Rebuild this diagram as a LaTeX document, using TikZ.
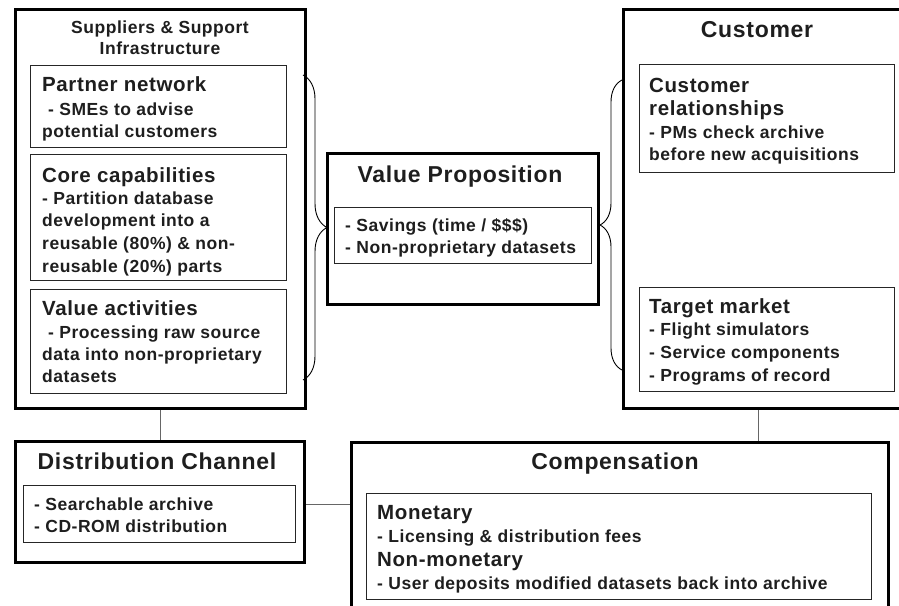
\documentclass[tikz,border=0pt]{standalone}
\usepackage{fontspec}
\setmainfont{Liberation Sans}[LetterSpace=3]
\usetikzlibrary{decorations.pathreplacing}
\definecolor{txtcol}{HTML}{1E1E1E}
\definecolor{conncol}{HTML}{666666}
\tikzset{
  outerbox/.style={draw=black, line width=3pt, inner sep=0pt, anchor=north west, fill=none},
  innerbox/.style={draw=black!85, line width=1.3pt, inner sep=0pt, anchor=north west},
  conn/.style={draw=conncol, line width=1pt},
  bracestyle/.style={draw=black, line width=0.9pt, decorate},
  txt/.style={anchor=base west, inner sep=0pt, text=txtcol, font=\bfseries\fontsize{17.5}{21}\selectfont},
  head/.style={anchor=base west, inner sep=0pt, text=txtcol, font=\bfseries\fontsize{20.5}{24}\selectfont},
  ttl/.style={anchor=base, inner sep=0pt, text=txtcol, font=\bfseries\fontsize{23}{27}\selectfont},
  sttl/.style={anchor=base, inner sep=0pt, text=txtcol, font=\bfseries\fontsize{17.5}{21}\selectfont},
}
\begin{document}
\begin{tikzpicture}[x=1pt,y=-1pt]
\useasboundingbox (0,0) rectangle (899,605);
\clip (0,0) rectangle (899,605);
\fill[white] (0,0) rectangle (899,605);

% ---- boxes ----
\node[outerbox, minimum width=290, minimum height=399] (supp) at (14,8) {};
\node[innerbox, minimum width=256, minimum height=82] (pn) at (30,65) {};
\node[innerbox, minimum width=256, minimum height=126] (cc) at (30,154) {};
\node[innerbox, minimum width=256, minimum height=104] (va) at (30,289) {};

\node[outerbox, minimum width=271, minimum height=151] (vp) at (326,152) {};
\node[innerbox, minimum width=257, minimum height=56] (vpi) at (334,207) {};

\node[outerbox, minimum width=290, minimum height=399] (cust) at (622,8) {};
\node[innerbox, minimum width=255, minimum height=108] (cr) at (639,64) {};
\node[innerbox, minimum width=255, minimum height=104] (tm) at (639,287) {};

\node[outerbox, minimum width=289, minimum height=121] (dist) at (14,440) {};
\node[innerbox, minimum width=272, minimum height=57] (disti) at (23,485) {};

\node[outerbox, minimum width=537, minimum height=180] (comp) at (350,441) {};
\node[innerbox, minimum width=505, minimum height=106] (compi) at (366,493) {};

% ---- connectors ----
\coordinate (cx) at (758,420);
\draw[conn] (supp.south) -- (supp.south |- dist.north);
\draw[conn] (dist.east |- disti.east) ++(0,-10) coordinate (dr) -- (dr -| comp.west);
\draw[conn] (cust.south -| cx) -- (comp.north -| cx);

% ---- braces ----
\coordinate (lb1) at (303,75);
\coordinate (lb2) at (303,380);
\coordinate (rb1) at (622,370);
\coordinate (rb2) at (622,80);
\draw[bracestyle, decoration={brace, amplitude=24pt}] (lb1) -- (lb2);
\draw[bracestyle, decoration={brace, amplitude=22pt}] (rb1) -- (rb2);

% ---- texts: suppliers ----
\node[sttl] (s1) at (160,33) {Suppliers \& Support};
\node[sttl] (s2) at (160,54) {Infrastructure};

\node[head] (pn1) at (42,91) {Partner network};
\node[txt] (pn2) at (48,115) {- SMEs to advise};
\node[txt] (pn3) at (42,137) {potential customers};

\node[head] (cc1) at (42,182) {Core capabilities};
\node[txt] (cc2) at (42,204) {- Partition database};
\node[txt] (cc3) at (42,226) {development into a};
\node[txt] (cc4) at (42,249) {reusable (80\%) \& non-};
\node[txt] (cc5) at (42,272) {reusable (20\%) parts};

\node[head] (va1) at (42,315) {Value activities};
\node[txt] (va2) at (48,338) {- Processing raw source};
\node[txt] (va3) at (42,360) {data into non-proprietary};
\node[txt] (va4) at (42,382) {datasets};

% ---- value proposition ----
\node[ttl] (vp1) at (460,182) {Value Proposition};
\node[txt] (vp2) at (345,231) {- Savings (time / \$\$\$)};
\node[txt] (vp3) at (345,253) {- Non-proprietary datasets};

% ---- customer ----
\node[ttl] (cu1) at (757,37) {Customer};
\node[head] (cr1) at (649,92) {Customer};
\node[head] (cr2) at (649,115) {relationships};
\node[txt] (cr3) at (649,138) {- PMs check archive};
\node[txt] (cr4) at (649,160) {before new acquisitions};

\node[head] (tm1) at (649,313) {Target market};
\node[txt] (tm2) at (649,335) {- Flight simulators};
\node[txt] (tm3) at (649,358) {- Service components};
\node[txt] (tm4) at (649,381) {- Programs of record};

% ---- distribution ----
\node[ttl] (d1) at (157,469) {Distribution Channel};
\node[txt] (d2) at (34,510) {- Searchable archive};
\node[txt] (d3) at (34,532) {- CD-ROM distribution};

% ---- compensation ----
\node[ttl] (c1) at (615,469) {Compensation};
\node[head] (c2) at (377,519) {Monetary};
\node[txt] (c3) at (377,542) {- Licensing \& distribution fees};
\node[head] (c4) at (377,566) {Non-monetary};
\node[txt] (c5) at (377,589) {- User deposits modified datasets back into archive};
\end{tikzpicture}
\end{document}
